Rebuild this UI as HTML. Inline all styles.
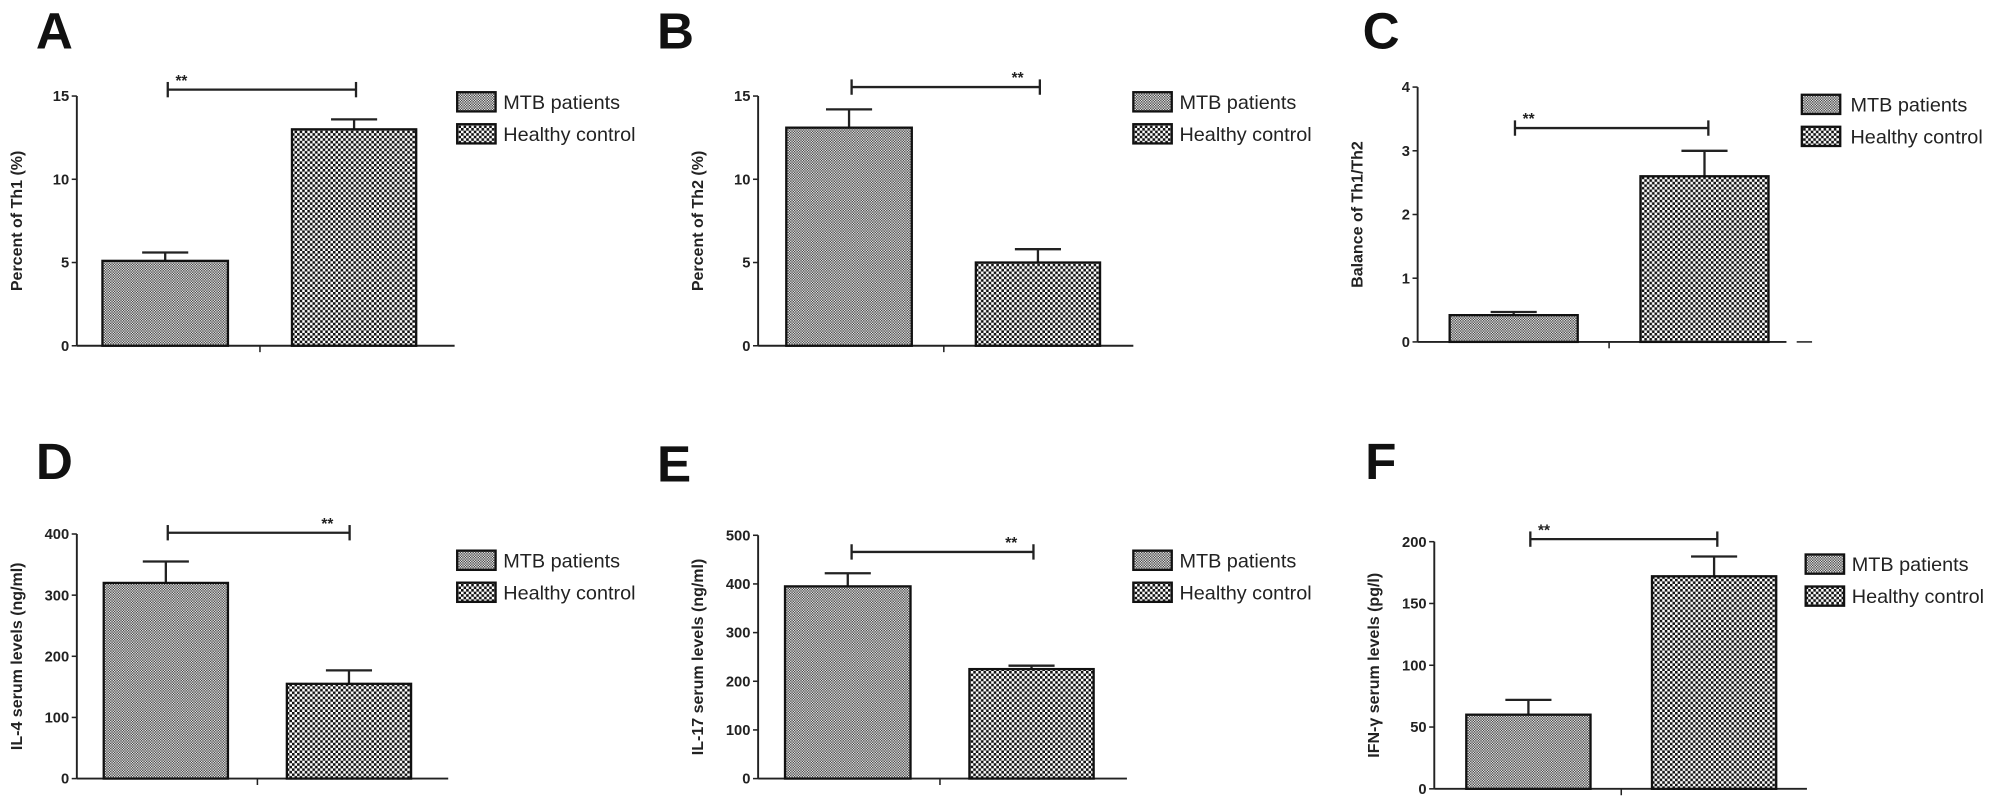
<!DOCTYPE html>
<html><head><meta charset="utf-8"><style>
html,body{margin:0;padding:0;background:#fff}
svg{display:block;font-family:"Liberation Sans",Arial,sans-serif}
</style></head><body>
<svg id="fig" width="2008" height="801" viewBox="0 0 1568 625.5" preserveAspectRatio="none" xmlns="http://www.w3.org/2000/svg">
<defs>
<pattern id="pMTB" width="2" height="2" patternUnits="userSpaceOnUse"><rect width="2" height="2" fill="#e8e8e8"/><rect width="1" height="1" fill="#444"/><rect x="1" y="1" width="1" height="1" fill="#444"/></pattern>
<pattern id="pHC" width="4" height="4" patternUnits="userSpaceOnUse"><rect width="4" height="4" fill="#fff"/><rect width="2" height="2" fill="#111"/><rect x="2" y="2" width="2" height="2" fill="#111"/></pattern>
</defs>
</svg>
<script>
const categories = ["MTB patients", "Healthy control"];
const valuesA = [5.1, 13.0]; const errA = [5.6, 13.6]; const ticksA = [0,5,10,15];
const valuesB = [13.1, 5.0]; const errB = [14.2, 5.8]; const ticksB = [0,5,10,15];
const valuesC = [0.42, 2.6]; const errC = [0.47, 3.0]; const ticksC = [0,1,2,3,4];
const valuesD = [320, 155]; const errD = [355, 177]; const ticksD = [0,100,200,300,400];
const valuesE = [395, 225]; const errE = [422, 232]; const ticksE = [0,100,200,300,400,500];
const valuesF = [60, 172]; const errF = [72, 188]; const ticksF = [0,50,100,150,200];
const titles = ["Percent of Th1 (%)","Percent of Th2 (%)","Balance of Th1/Th2","IL-4 serum levels (ng/ml)","IL-17 serum levels (ng/ml)","IFN-\u03b3 serum levels (pg/l)"];
const letters = ["A","B","C","D","E","F"];

const layouts = [
 {ax:60,y0:270,yt:75,bars:[[80,178],[228,325]],end:355,sig:70,s1:131,s2:278,lx:357,ly:72,tx:393,L:[28,38]},
 {ax:592,y0:270,yt:75,bars:[[614,712],[762,859]],end:885,sig:68,s1:665,s2:812,lx:885,ly:72,tx:921,L:[513,38]},
 {ax:1107,y0:267,yt:68,bars:[[1132,1232],[1281,1381]],end:1395,sig:100,s1:1183,s2:1334,lx:1407,ly:74,tx:1445,L:[1064,38],dash:true},
 {ax:60,y0:608,yt:417,bars:[[81,178],[224,321]],end:350,sig:416,s1:131,s2:273,lx:357,ly:430,tx:393,L:[28,374]},
 {ax:592,y0:608,yt:418,bars:[[613,711],[757,854]],end:880,sig:431,s1:665,s2:807,lx:885,ly:430,tx:921,L:[513,376]},
 {ax:1120,y0:616,yt:423,bars:[[1145,1242],[1290,1387]],end:1411,sig:421,s1:1195,s2:1341,lx:1410,ly:433,tx:1446,L:[1066,374]}
];
const allVals=[valuesA,valuesB,valuesC,valuesD,valuesE,valuesF];
const allErr=[errA,errB,errC,errD,errE,errF];
const allTicks=[ticksA,ticksB,ticksC,ticksD,ticksE,ticksF];
const svg=document.getElementById('fig');
const NS="http://www.w3.org/2000/svg";
function mk(tag,attrs,parent){const e=document.createElementNS(NS,tag);for(const k in attrs)e.setAttribute(k,attrs[k]);(parent||svg).appendChild(e);return e;}
const fills=["url(#pMTB)","url(#pHC)"];
layouts.forEach((L,i)=>{
  const g=mk('g',{});
  
  
  const ticks=allTicks[i], vals=allVals[i], errs=allErr[i];
  const max=ticks[ticks.length-1];
  const y=v=>L.y0-(v/max)*(L.y0-L.yt);
  const lt=mk('text',{x:L.L[0],y:L.L[1],'font-size':40,'font-weight':'bold',fill:'#111'},g);lt.textContent=letters[i];
  
  
  const ya=mk('line',{x1:L.ax,y1:L.y0,x2:L.ax,y2:y(max),stroke:'#222','stroke-width':1.5},g);
  
  
  const xa=mk('line',{x1:L.ax,y1:L.y0,x2:L.end,y2:L.y0,stroke:'#222','stroke-width':1.5},g);
  
  
  const mid=(L.bars[0][1]+L.bars[1][0])/2;
  mk('line',{x1:mid,y1:L.y0,x2:mid,y2:L.y0+5,stroke:'#222','stroke-width':1.2},g);
  if(L.dash) mk('line',{x1:L.end+8,y1:L.y0,x2:L.end+20,y2:L.y0,stroke:'#222','stroke-width':1.2},g);
  ticks.forEach(t=>{
    mk('line',{x1:L.ax-4,y1:y(t),x2:L.ax,y2:y(t),stroke:'#222','stroke-width':1.2},g);
    const tx=mk('text',{x:L.ax-6,y:y(t)+4,'font-size':11.5,'text-anchor':'end',fill:'#222','font-weight':'bold'},g);
    tx.textContent=t;
    
    
  });
  const cy=(L.y0+y(max))/2, cx=L.ax-43;
  const tt=mk('text',{x:cx,y:cy,'font-size':12.5,'font-weight':'bold','text-anchor':'middle',fill:'#222',transform:`rotate(-90 ${cx} ${cy})`},g);
  tt.textContent=titles[i];
  
  
  vals.forEach((v,j)=>{
    const [x1,x2]=L.bars[j];
    const cxb=(x1+x2)/2;
    const el=mk('line',{x1:cxb,y1:y(v),x2:cxb,y2:y(errs[j]),stroke:'#222','stroke-width':1.8},g);
    
    
    mk('line',{x1:cxb-18,y1:y(errs[j]),x2:cxb+18,y2:y(errs[j]),stroke:'#222','stroke-width':1.8},g);
    const r=mk('rect',{x:x1,y:y(v),width:x2-x1,height:L.y0-y(v),fill:fills[j],stroke:'#111','stroke-width':1.8},g);
    
    
  });
  const sg=mk('g',{},g);
  
  
  mk('line',{x1:L.s1,y1:L.sig,x2:L.s2,y2:L.sig,stroke:'#222','stroke-width':1.8},sg);
  mk('line',{x1:L.s1,y1:L.sig-6,x2:L.s1,y2:L.sig+6,stroke:'#222','stroke-width':1.8},sg);
  mk('line',{x1:L.s2,y1:L.sig-6,x2:L.s2,y2:L.sig+6,stroke:'#222','stroke-width':1.8},sg);
  const st=mk('text',{x:(i===1||i===3||i===4)?L.s2-22:L.s1+6,y:L.sig-3,'font-size':12,'font-weight':'bold',fill:'#222'},sg);
  st.textContent='**';
  categories.forEach((c,j)=>{
    const ly=L.ly+j*25;
    const le=mk('g',{},g);
    
    
    mk('rect',{x:L.lx,y:ly,width:30,height:15,fill:fills[j],stroke:'#111','stroke-width':1.8},le);
    const t=mk('text',{x:L.tx,y:ly+13,'font-size':15.5,fill:'#222'},le);
    t.textContent=c;
  });
});
</script>
</body></html>
